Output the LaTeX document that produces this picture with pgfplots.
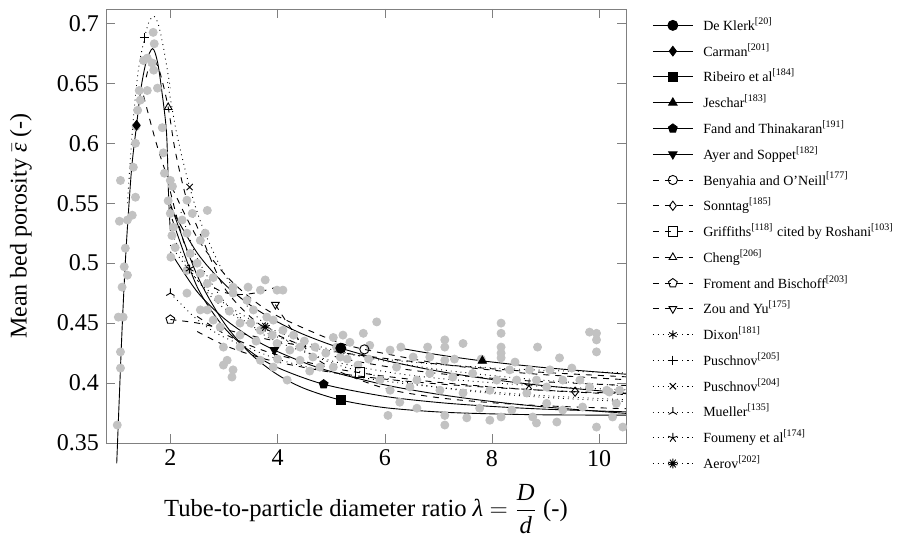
\documentclass[border=0pt]{standalone}
\usepackage{pgfplots}
\pgfplotsset{compat=1.18}
\usepackage{fontspec}
\setmainfont{Liberation Serif}
\usetikzlibrary{plotmarks}
\begin{document}
\begin{tikzpicture}
\path[use as bounding box] (-53pt,-46.5pt) rectangle (399pt,221.5pt);
\begin{axis}[
  at={(0,0)}, anchor=south west,
  scale only axis, width=260pt, height=217pt,
  xmin=0.8, xmax=10.5, ymin=0.35, ymax=0.712,
  xtick={2,4,6,8,10},
  ytick={0.35,0.4,0.45,0.5,0.55,0.6,0.65,0.7},
  /pgf/number format/assume math mode=true,
  ticklabel style={font=\fontsize{12}{14}\selectfont},
  axis line style={black!50},
  tick style={black!50},
  tick align=inside,
  clip=false,
  xlabel={Tube-to-particle diameter ratio \textit{λ} $={\displaystyle\frac{\mbox{\textit{D}}}{\mbox{\textit{d}}}}$ (-)},
  ylabel={Mean bed porosity $\bar{\mbox{\textit{ε}}}$ (-)},
  xlabel style={font=\fontsize{12.3}{15}\selectfont, at={(axis description cs:0.5,-0.170)}, anchor=base},
  ylabel style={font=\fontsize{12}{15}\selectfont, at={(axis description cs:-0.142,0.5)}, anchor=south, inner sep=0pt},
  legend cell align=left,
  legend style={draw=none, fill=none, at={(axis description cs:1,1)}, anchor=north west,
    xshift=10pt, yshift=0pt, font=\fontsize{7}{8.5}\selectfont, row sep=0.9pt, column sep=3pt},
  legend image code/.code={\draw[#1, mark indices={2}] plot coordinates {(0pt,0pt) (10pt,0pt) (20pt,0pt)};},
  every axis plot/.append style={line width=0.45pt},
]
% experimental data
\addplot[only marks, mark=*, mark size=2pt, color=black!24, forget plot] coordinates {
(1.07,0.569)(1.05,0.535)(1.20,0.536)(1.16,0.5125)(1.14,0.497)(1.20,0.49)(1.29,0.54)(1.35,0.555)(1.31,0.58)(1.35,0.60)
(1.36,0.614)(1.39,0.6275)(1.44,0.636)(1.42,0.644)(1.57,0.644)(1.50,0.669)(1.57,0.671)(1.66,0.667)(1.69,0.661)(1.70,0.683)
(1.68,0.6925)(1.76,0.646)(1.85,0.613)(1.87,0.592)(1.89,0.575)(2.0,0.569)(2.04,0.564)(1.96,0.552)(2.0,0.5415)(2.06,0.53)
(2.03,0.523)(2.09,0.513)(2.01,0.505)(2.22,0.536)(2.31,0.525)(2.41,0.5415)(2.69,0.544)(2.65,0.525)(2.56,0.519)(2.37,0.508)
(2.50,0.50)(2.31,0.494)(2.56,0.4915)(2.69,0.483)(2.80,0.488)(3.17,0.48)(3.45,0.48)(3.77,0.486)(3.68,0.4775)(3.99,0.4775)
(4.10,0.4775)(2.31,0.5525)(1.03,0.455)(1.07,0.426)(1.07,0.4125)(1.01,0.365)(1.12,0.455)(1.10,0.48)
(2.31,0.475)(2.56,0.461)(2.69,0.461)(2.80,0.4525)(2.93,0.4467)(2.99,0.43)(3.06,0.419)(2.99,0.415)(3.17,0.411)(3.30,0.45)
(3.55,0.461)(3.68,0.444)(3.80,0.455)(3.92,0.4525)(4.10,0.444)(3.99,0.433)(4.23,0.4275)(4.42,0.43)(4.42,0.419)(4.66,0.4217)
(4.79,0.4133)(5.04,0.438)(5.04,0.4133)(5.17,0.4217)(4.18,0.4025)(3.92,0.4133)(3.68,0.419)(3.17,0.475)(3.43,0.469)
(5.85,0.451)(5.60,0.4415)(5.22,0.44)(5.35,0.434)(5.72,0.4315)(6.10,0.4275)(6.22,0.4133)(6.53,0.4217)(6.84,0.4217)(7.12,0.436)
(7.12,0.43)(7.12,0.419)(7.46,0.433)(7.12,0.373)(7.12,0.365)(7.53,0.371)(7.96,0.369)(8.17,0.45)(8.17,0.4415)(8.17,0.43)
(8.17,0.425)(8.17,0.421)(8.17,0.3717)(8.43,0.4175)(8.85,0.43)(8.76,0.3717)(8.83,0.3667)(9.26,0.421)(9.21,0.3675)(9.49,0.4125)
(9.82,0.4425)(9.95,0.4415)(9.95,0.436)(9.95,0.426)(9.95,0.3633)(10.25,0.3717)(10.44,0.3633)(6.06,0.373)(6.60,0.379)(6.28,0.384)
(7.77,0.379)(8.37,0.3775)(9.02,0.383)(9.32,0.3775)(9.69,0.38)(10.14,0.394)(10.32,0.383)(9.64,0.4025)(9.02,0.3967)(8.65,0.3917)
(8.09,0.4025)(7.96,0.394)(7.64,0.408)(7.27,0.405)(6.84,0.408)(6.60,0.4025)(5.91,0.4025)(6.10,0.394)(6.47,0.3967)(7.03,0.394)
(7.46,0.3917)(8.46,0.4025)(8.83,0.4025)(9.32,0.4025)(9.82,0.3967)(10.19,0.3925)(10.38,0.394)(8.70,0.411)(9.08,0.411)(8.33,0.411)
(2.9,0.47)(3.1,0.46)(3.3,0.44)(3.5,0.45)(3.6,0.435)(3.9,0.44)(4.3,0.44)(4.5,0.435)(4.7,0.43)(4.9,0.425)
(5.1,0.43)(4.0,0.42)(4.6,0.41)(5.3,0.42)(5.5,0.415)(5.7,0.42)(6.3,0.43)(6.8,0.43)(7.3,0.42)(7.8,0.42)(3.3,0.43)(3.15,0.405)
};
% solid
\addplot[black, smooth, mark=*, mark size=2.5pt, mark indices={7}] coordinates {
(2,0.547)(2.5,0.5086)(3,0.483)(3.5,0.4647)(4,0.451)(4.5,0.4403)(5.18,0.4291)(6,0.419)(7,0.4099)(8,0.403)(9,0.3977)(10.5,0.3916)};
\addlegendentry{De Klerk\textsuperscript{[20]}}
\addplot[black, smooth, mark=diamond*, mark size=2.4pt, mark indices={7}] coordinates {
(1.0,0.333)(1.05,0.39)(1.1,0.445)(1.15,0.492)(1.2,0.53)(1.28,0.58)(1.37,0.615)(1.45,0.645)(1.55,0.668)(1.67,0.679)(1.76,0.668)(1.84,0.644)(1.93,0.608)(1.97,0.5525)(2.0,0.527)};
\addlegendentry{Carman\textsuperscript{[201]}}
\addplot[black, smooth, mark=square*, mark size=2.4pt, mark indices={7}] coordinates {
(2,0.5495)(2.5,0.4899)(3,0.4504)(3.5,0.4243)(4,0.407)(4.5,0.3955)(5.18,0.3858)(6,0.3795)(7,0.3759)(8,0.3743)(9,0.3735)(10.5,0.3732)};
\addlegendentry{Ribeiro et al\textsuperscript{[184]}}
\addplot[black, smooth, mark=triangle*, mark size=2.4pt, mark indices={3}] coordinates {
(6.25,0.4294)(7,0.4236)(7.82,0.4185)(9,0.4128)(10.5,0.4074)};
\addlegendentry{Jeschar\textsuperscript{[183]}}
\addplot[black, smooth, mark=pentagon*, mark size=2.3pt, mark indices={6}] coordinates {
(2.033,0.5369)(2.5,0.4803)(3,0.4465)(3.5,0.4261)(4,0.4129)(4.86,0.399)(6,0.3889)(7,0.3838)(8,0.3805)(9,0.3782)(10.5,0.376)};
\addlegendentry{Fand and Thinakaran\textsuperscript{[191]}}
\addplot[black, smooth, mark=triangle*, mark size=2.4pt, mark options={rotate=180}, mark indices={5}] coordinates {
(2,0.5095)(2.5,0.4762)(3,0.454)(3.5,0.4381)(3.94,0.4275)(4.5,0.417)(5,0.4096)(6,0.3985)(7,0.3906)(8,0.3846)(9,0.38)(10.5,0.3747)};
\addlegendentry{Ayer and Soppet\textsuperscript{[182]}}
% dashed
\addplot[black, dashed, smooth, mark=o, mark size=2.3pt, mark options={solid}, mark indices={9}] coordinates {
(1.5,0.6397)(1.75,0.5983)(2,0.5665)(2.5,0.5213)(3,0.4915)(3.5,0.4708)(4,0.4559)(5,0.4362)(5.62,0.4281)(7,0.4163)(8,0.4108)(9,0.4069)(10.5,0.4028)};
\addlegendentry{Benyahia and O’Neill\textsuperscript{[177]}}
\addplot[black, dashed, smooth, mark=diamond, mark size=2.3pt, mark options={solid}, mark indices={10}] coordinates {
(2.5,0.443)(3,0.4317)(3.5,0.4236)(4,0.4175)(5,0.409)(6,0.4033)(7,0.3993)(8,0.3963)(9,0.3939)(9.55,0.3928)(10.5,0.3912)};
\addlegendentry{Sonntag\textsuperscript{[185]}}
\addplot[black, dashed, smooth, mark=square, mark size=2.4pt, mark options={solid}, mark indices={6}] coordinates {
(2.5,0.4556)(3,0.4413)(3.5,0.4311)(4,0.4235)(5,0.4128)(5.54,0.4086)(6,0.4057)(7,0.4006)(8,0.3968)(9,0.3938)(10.5,0.3904)};
\addlegendentry{Griffiths\textsuperscript{[118]} cited by Roshani\textsuperscript{[103]}}
\addplot[black, dashed, smooth, mark=triangle, mark size=2.2pt, mark options={solid}, mark indices={4}] coordinates {
(1.55,0.655)(1.66,0.671)(1.8,0.66)(1.96,0.63)(2.09,0.594)(2.31,0.5525)(2.6,0.52)(3,0.48)(3.5,0.455)(4,0.44)(5,0.423)(6,0.414)(7,0.408)(8,0.404)(9,0.401)(10.5,0.398)};
\addlegendentry{Cheng\textsuperscript{[206]}}
\addplot[black, dashed, smooth, mark=pentagon, mark size=2.3pt, mark options={solid}, mark indices={1}] coordinates {
(2,0.453)(2.5,0.4501)(3,0.4449)(3.5,0.4396)(4,0.4348)(5,0.4267)(6,0.4206)(7,0.4158)(8,0.4119)(9,0.4088)(10.5,0.4052)};
\addlegendentry{Froment and Bischoff\textsuperscript{[203]}}
\addplot[black, dashed, smooth, mark=triangle, mark size=2.2pt, mark options={solid,rotate=180}, mark indices={1}] coordinates {
(3.96,0.4654)(4.5,0.430)(5,0.4127)(6,0.3956)(7,0.3878)(8,0.3836)(9,0.381)(10.5,0.3786)};
\addlegendentry{Zou and Yu\textsuperscript{[175]}}
\addplot[black, dashed, smooth, forget plot] coordinates {
(2,0.5598)(2.25,0.5178)(2.5,0.4944)(2.75,0.4817)(3,0.4757)(3.29,0.4738)(3.6,0.4753)(3.95,0.4796)};
% dotted
\addplot[black, dotted, smooth, mark=asterisk, mark size=2.2pt, mark options={solid}, mark indices={3}] coordinates {
(2,0.528)(2.25,0.5036)(2.36,0.4952)(2.5,0.4859)(2.75,0.4727)(3,0.4624)(3.5,0.4479)(4,0.4383)(4.5,0.4315)(5,0.4265)(6,0.4198)(7,0.4156)(8,0.4127)(9,0.4106)(10.5,0.4085)};
\addlegendentry{Dixon\textsuperscript{[181]}}
\addplot[black, dotted, smooth, mark=+, mark size=2.4pt, mark options={solid}, mark indices={4}] coordinates {
(1.2,0.55)(1.3,0.615)(1.4,0.66)(1.52,0.688)(1.6,0.701)(1.69,0.706)(1.77,0.7)(1.85,0.685)(1.93,0.665)(2.0,0.646)};
\addlegendentry{Puschnov\textsuperscript{[205]}}
\addplot[black, dotted, smooth, mark=x, mark size=2.2pt, mark options={solid}, mark indices={3}] coordinates {
(1.95,0.651)(2.12,0.608)(2.36,0.5635)(2.6,0.5303)(3,0.4917)(3.5,0.4607)(4,0.4406)(4.5,0.4269)(5,0.417)(6,0.4042)(7,0.3964)(8,0.3914)(9,0.388)(10.5,0.3845)};
\addlegendentry{Puschnov\textsuperscript{[204]}}
\addplot[black, dotted, smooth, mark=Mercedes star, mark size=2.4pt, mark options={solid}, mark indices={1}] coordinates {
(2,0.475)(2.5,0.453)(3,0.4383)(4,0.42)(5,0.409)(6,0.4017)(7,0.3964)(8,0.3925)(9,0.3894)(10.5,0.386)};
\addlegendentry{Mueller\textsuperscript{[135]}}
\addplot[black, dotted, smooth, mark=star, mark size=2.4pt, mark options={solid}, mark indices={9}] coordinates {
(2.2,0.5426)(2.5,0.5043)(3,0.4682)(3.5,0.4476)(4,0.4344)(5,0.4186)(6,0.4096)(7,0.4039)(8.69,0.398)(9,0.3972)(10.5,0.3943)};
\addlegendentry{Foumeny et al\textsuperscript{[174]}}
\addplot[black, dotted, smooth, mark=10-pointed star, mark size=2.4pt, mark options={solid}, mark indices={5}] coordinates {
(2,0.515)(2.5,0.486)(3,0.4667)(3.5,0.4529)(3.77,0.4469)(4.5,0.4344)(5,0.428)(6,0.4183)(7,0.4114)(8,0.4063)(9,0.4022)(10.5,0.3976)};
\addlegendentry{Aerov\textsuperscript{[202]}}
\end{axis}
\end{tikzpicture}
\end{document}
